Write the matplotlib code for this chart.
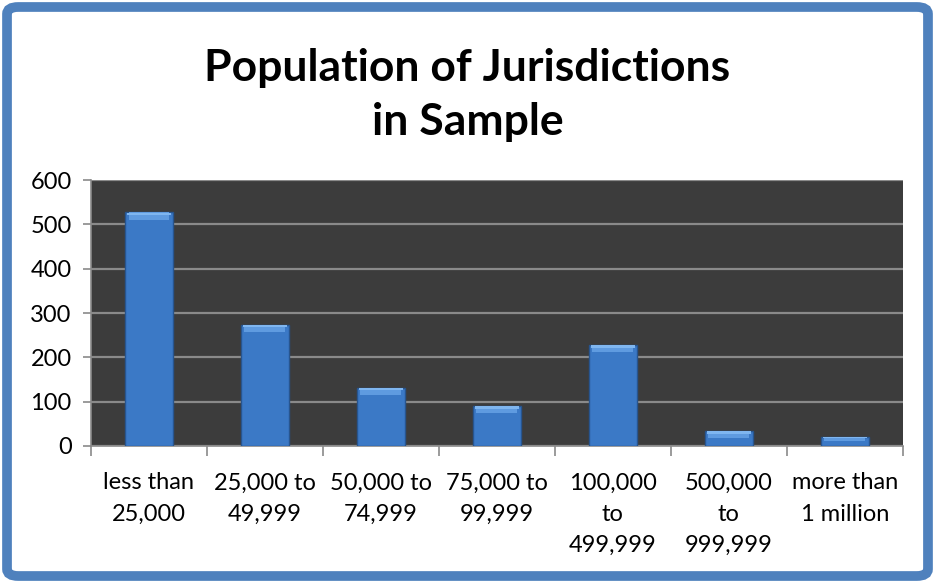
import matplotlib
matplotlib.use("Agg")
import matplotlib.pyplot as plt
from matplotlib.patches import FancyBboxPatch
import numpy as np

# data
categories = ["less than\n25,000", "25,000 to\n49,999", "50,000 to\n74,999",
              "75,000 to\n99,999", "100,000\nto\n499,999", "500,000\nto\n999,999",
              "more than\n1 million"]
counts = [527, 274, 132, 90, 228, 34, 21]
y_ticks = [0, 100, 200, 300, 400, 500, 600]
title = "Population of Jurisdictions\nin Sample"

plt.rcParams['font.family'] = ['Lato', 'DejaVu Sans']

fig = plt.figure(figsize=(9.35, 5.83), dpi=100)

# blue rounded frame, kept behind the axes
frame = FancyBboxPatch((0.0075, 0.012), 0.985, 0.976,
                       boxstyle="round,pad=0,rounding_size=0.012",
                       transform=fig.transFigure, facecolor="white",
                       edgecolor="#4F81BD", linewidth=7, zorder=-5)
fig.patches.append(frame)

ax = fig.add_axes([0.0973, 0.235, 0.8682, 0.456])
ax.set_zorder(2)
ax.set_facecolor("#3c3c3c")

x = np.arange(len(categories))
w = 0.41
ax.bar(x, counts, width=w, color="#3b79c6", edgecolor="#27558f",
       linewidth=1.0, zorder=3)
# lighter bevel on top of each bar
cap = [min(16, c * 0.45) for c in counts]
ax.bar(x, cap, bottom=np.array(counts) - np.array(cap), width=w * 0.86,
       color="#5f9be0", linewidth=0, zorder=4)
ax.bar(x, [c * 0.35 for c in cap], bottom=np.array(counts) - np.array(cap) * 0.4,
       width=w * 0.92, color="#7fb6f0", linewidth=0, zorder=5)

ax.set_xlim(-0.5, len(categories) - 0.5)
ax.set_ylim(0, 600)
ax.set_yticks(y_ticks)
ax.set_yticklabels([str(t) for t in y_ticks], fontsize=17)
ax.yaxis.grid(True, color="#8a8a8a", linewidth=1.6, zorder=1)
ax.set_axisbelow(True)

# boundary ticks (major) and label positions (minor)
ax.set_xticks(np.arange(-0.5, len(categories), 1.0))
ax.set_xticklabels([])
ax.set_xticks(x, minor=True)
ax.set_xticklabels(categories, minor=True, fontsize=17, linespacing=1.6)
ax.tick_params(axis="x", which="major", length=7, color="#8a8a8a", width=1.2)
ax.tick_params(axis="x", which="minor", length=0, pad=19)
ax.tick_params(axis="y", length=6, color="#8a8a8a", width=1.2, pad=8)

for s in ["top", "right"]:
    ax.spines[s].set_visible(False)
for s in ["left", "bottom"]:
    ax.spines[s].set_color("#8a8a8a")
    ax.spines[s].set_linewidth(1.2)

fig.text(0.5, 0.837, title, ha="center", va="center", fontsize=32,
         fontweight="bold", linespacing=1.4)

fig.savefig("out.png", dpi=100)
